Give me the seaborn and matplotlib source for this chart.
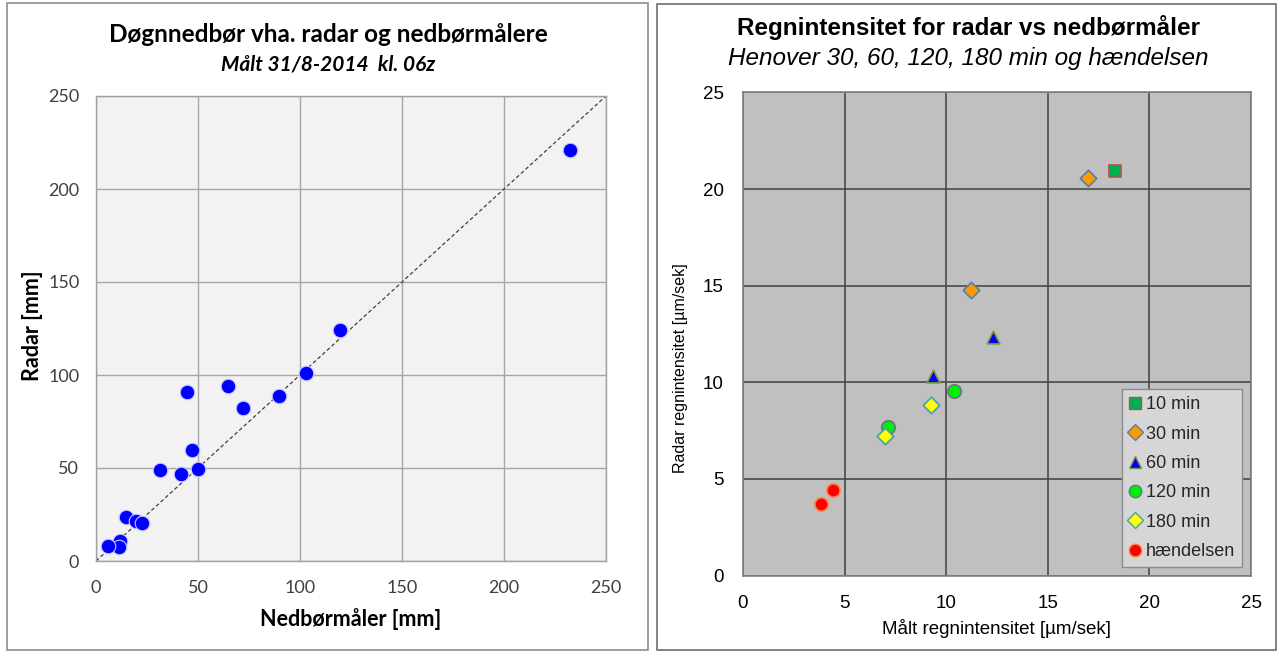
import matplotlib
matplotlib.use("Agg")
import matplotlib.pyplot as plt
import seaborn as sns
import pandas as pd
from matplotlib.patches import Rectangle
from matplotlib.lines import Line2D

# ---------------- Data: left panel ----------------
gauge_mm = [232.2, 119.7, 103.0, 89.6, 71.9, 64.6, 44.6, 47.2, 50.0, 41.6, 31.4,
            14.8, 19.4, 22.7, 12.0, 11.2, 5.9]
radar_mm = [221.0, 124.0, 101.0, 88.6, 82.0, 94.2, 90.6, 59.6, 49.5, 46.8, 48.9,
            23.5, 21.3, 20.3, 10.5, 7.6, 7.8]
left_ticks = [0, 50, 100, 150, 200, 250]

# ---------------- Data: right panel ----------------
groups = ["10 min", "30 min", "30 min", "60 min", "60 min", "120 min", "120 min",
          "180 min", "180 min", "hændelsen", "hændelsen"]
measured = [18.3, 17.0, 11.2, 12.3, 9.35, 10.4, 7.15, 9.25, 7.0, 4.45, 3.85]
radar_int = [20.95, 20.55, 14.8, 12.35, 10.35, 9.55, 7.7, 8.8, 7.2, 4.45, 3.7]
group_order = ["10 min", "30 min", "60 min", "120 min", "180 min", "hændelsen"]
face_colors = ["#00B050", "#FF9900", "#0000FF", "#00EE00", "#FFFF00", "#FF0000"]
edge_colors = ["#B05050", "#5080B0", "#7A9A3A", "#707090", "#40A0B0", "#FF8040"]
marker_shapes = ["s", "D", "^", "o", "D", "o"]
marker_sizes = [80, 70, 85, 95, 70, 90]
right_ticks = [0, 5, 10, 15, 20, 25]

df_left = pd.DataFrame({"g": gauge_mm, "r": radar_mm})
df_right = pd.DataFrame({"group": groups, "x": measured, "y": radar_int})

sns.set_theme(style="white")
plt.rcParams["font.family"] = ["Lato", "DejaVu Sans"]

W, H = 1278, 652
fig = plt.figure(figsize=(W / 100, H / 100), dpi=100)
fig.patch.set_facecolor("white")

# panel borders
fig.patches.append(Rectangle((7 / W, 1 - 650 / H), (648 - 7) / W, (650 - 3) / H,
                             transform=fig.transFigure, fill=False,
                             edgecolor="#8C8C8C", linewidth=1.2))
fig.patches.append(Rectangle((657 / W, 1 - 650 / H), (1276 - 657) / W, (650 - 4) / H,
                             transform=fig.transFigure, fill=False,
                             edgecolor="#6E6E6E", linewidth=1.2))

# ---------------- Left panel ----------------
axL = fig.add_axes([96 / W, 1 - 561 / H, (606 - 96) / W, (561 - 96) / H])
axL.set_facecolor("#F2F2F2")
axL.plot([0, 250], [0, 250], linestyle=(0, (3, 2)), color="#404040", linewidth=0.9, zorder=2)
sns.scatterplot(data=df_left, x="g", y="r", ax=axL, color="#0000FF", s=110,
                edgecolor="#C8C8FF", linewidth=0.8, zorder=3, legend=False)
axL.set_xlim(0, 250)
axL.set_ylim(0, 250)
axL.set_xticks(left_ticks)
axL.set_yticks(left_ticks)
axL.grid(True, color="#A6A6A6", linewidth=1.0)
axL.set_axisbelow(True)
for sp in axL.spines.values():
    sp.set_color("#A0A0A0")
    sp.set_linewidth(1.0)
axL.tick_params(axis="both", labelsize=13, colors="#404040", length=0)
axL.tick_params(axis="x", pad=14)
axL.tick_params(axis="y", pad=12)
axL.set_xlabel("Nedbørmåler [mm]", fontsize=15.5, fontweight="bold", color="black", labelpad=8)
axL.set_ylabel("Radar [mm]", fontsize=15.5, fontweight="bold", color="black")
axL.yaxis.set_label_coords(-0.104, 0.505)
fig.text(328 / W, 1 - 34 / H, "Døgnnedbør vha. radar og nedbørmålere", ha="center", va="center",
         fontsize=17.5, fontweight="bold", color="black")
fig.text(328 / W, 1 - 64 / H, "Målt 31/8-2014  kl. 06z", ha="center", va="center",
         fontsize=15, fontweight="bold", fontstyle="italic", color="black")

# ---------------- Right panel ----------------
arial = ["Liberation Sans", "DejaVu Sans"]
axR = fig.add_axes([743 / W, 1 - 575.5 / H, (1251 - 743) / W, (575.5 - 92.5) / H])
axR.set_facecolor("#C0C0C0")
for gname, fc, ec, mk, sz in zip(group_order, face_colors, edge_colors, marker_shapes, marker_sizes):
    sub = df_right[df_right["group"] == gname]
    sns.scatterplot(data=sub, x="x", y="y", ax=axR, color=fc, marker=mk, s=sz,
                    edgecolor=ec, linewidth=1.2, zorder=3, legend=False)
axR.set_xlim(0, 25)
axR.set_ylim(0, 25)
axR.set_xticks(right_ticks)
axR.set_yticks(right_ticks)
axR.grid(True, color="#404040", linewidth=1.1)
axR.set_axisbelow(True)
for sp in axR.spines.values():
    sp.set_color("#808080")
    sp.set_linewidth(1.2)
axR.tick_params(axis="both", labelsize=13.5, colors="black", length=0)
axR.tick_params(axis="x", pad=14)
axR.tick_params(axis="y", pad=14)
for lab in axR.get_xticklabels() + axR.get_yticklabels():
    lab.set_family(arial)
axR.set_xlabel("Målt regnintensitet [µm/sek]", fontsize=13.5, family=arial, color="black", labelpad=5)
axR.set_ylabel("Radar regnintensitet [µm/sek]", fontsize=11.5, family=arial, color="black")
axR.yaxis.set_label_coords(-0.108, 0.43)

handles = [Line2D([0], [0], marker=mk, linestyle="none", markerfacecolor=fc, markeredgecolor=ec,
                  markersize=(9 if mk in ("^", "o") else 8), markeredgewidth=1.0)
           for fc, ec, mk in zip(face_colors, edge_colors, marker_shapes)]
leg = axR.legend(handles, group_order, loc="lower right", bbox_to_anchor=(0.99, 0.01),
                 prop={"family": arial, "size": 13}, frameon=True, fancybox=False,
                 framealpha=1, handlelength=0.6, handletextpad=0.3, labelspacing=0.68,
                 borderpad=0.4, borderaxespad=0.2)
leg.get_frame().set_facecolor("#D6D6D6")
leg.get_frame().set_edgecolor("#8C8C8C")
leg.get_frame().set_linewidth(1.0)

fig.text(968 / W, 1 - 28 / H, "Regnintensitet for radar vs nedbørmåler", ha="center", va="center",
         fontsize=17.5, fontweight="bold", family=arial, color="black")
fig.text(968 / W, 1 - 58 / H, "Henover 30, 60, 120, 180 min og hændelsen", ha="center", va="center",
         fontsize=17.5, fontstyle="italic", family=arial, color="black")

fig.savefig("out.png", dpi=100, facecolor="white")
